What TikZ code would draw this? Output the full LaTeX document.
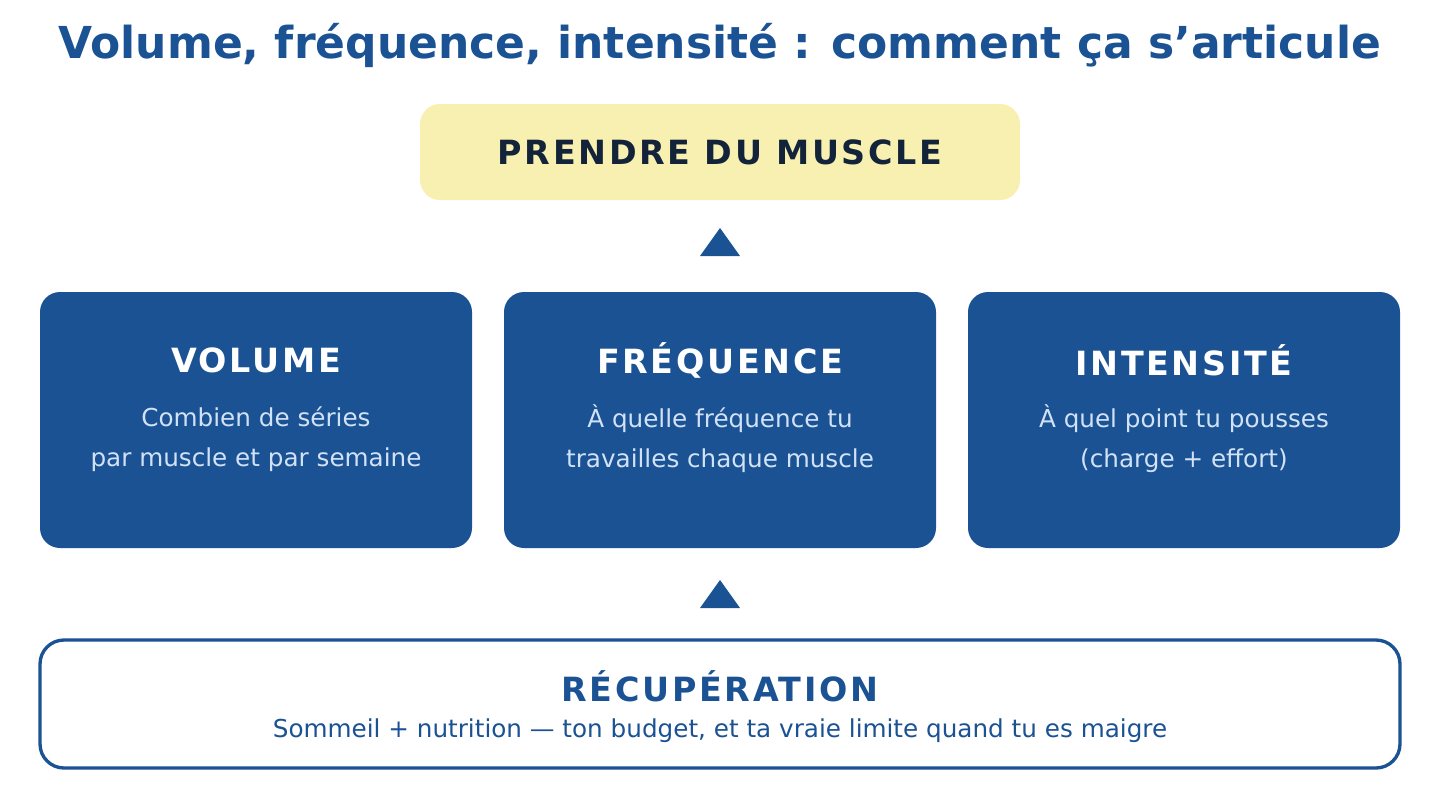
\documentclass[tikz,border=0pt]{standalone}
\usepackage{fontspec}
\setmainfont{DejaVu Sans}
\newfontfamily\spaced[LetterSpace=8]{DejaVu Sans}
\usetikzlibrary{positioning}
\definecolor{navy}{HTML}{1A5294}
\definecolor{cream}{HTML}{F8F0B0}
\definecolor{ink}{HTML}{13243A}
\definecolor{pale}{HTML}{D2E2F6}
\begin{document}
\begin{tikzpicture}[x=0.75pt,y=-0.75pt,
	pillar/.style={fill=navy, rounded corners=15pt},
	headtxt/.style={font=\spaced\bfseries\fontsize{25}{30}\selectfont},
	bodytxt/.style={font=\fontsize{18.5}{30}\selectfont, align=center},
	tip/.style={fill=navy}
	]
	\useasboundingbox (0,0) rectangle (1440,800);
	
	\node[font=\bfseries\fontsize{33}{40}\selectfont, text=navy] (title) at (720,45) {Volume, fréquence, intensité : comment ça s'articule};
	
	% goal
	\fill[cream, rounded corners=15pt] (420,104) rectangle (1020,200);
	\node[headtxt, text=ink] (goal) at (720,152) {PRENDRE DU MUSCLE};
	
	\fill[tip] (700,256) -- (720,228) -- (740,256) -- cycle;
	
	% three pillars
	\foreach \x/\name/\head/\body in {
		40/vol/VOLUME/{Combien de séries\\par muscle et par semaine},
		504/freq/FRÉQUENCE/{À quelle fréquence tu\\travailles chaque muscle},
		968/inten/INTENSITÉ/{À quel point tu pousses\\(charge + effort)}}
	{
		\fill[pillar] (\x,292) rectangle (\x+432,548);
		\node[headtxt, text=white] (\name) at (\x+216,360) {\head};
		\node[bodytxt, text=pale] (\name-txt) at (\x+216,439) {\body};
	}
	
	\fill[tip] (700,608) -- (720,580) -- (740,608) -- cycle;
	
	% base
	\draw[navy, line width=2.5pt, fill=white, rounded corners=18pt] (40,640) rectangle (1400,768);
	\node[headtxt, text=navy] (recup) at (720,686) {RÉCUPÉRATION};
	\node[bodytxt, text=navy] (recup-txt) at (720,731) {Sommeil + nutrition — ton budget, et ta vraie limite quand tu es maigre};
\end{tikzpicture}
\end{document}
